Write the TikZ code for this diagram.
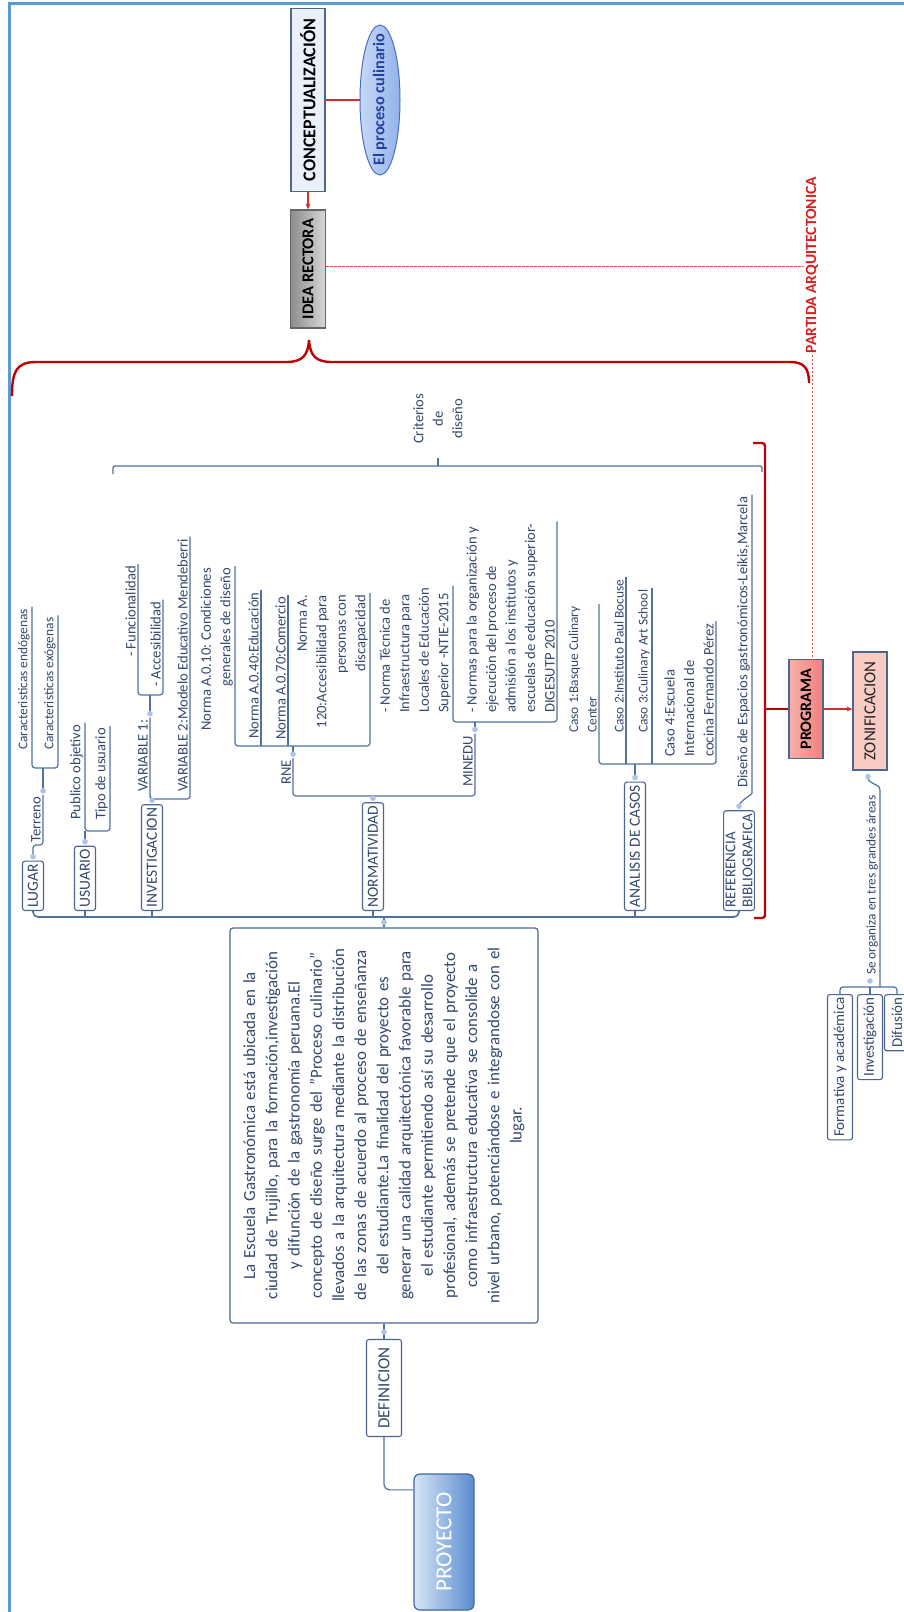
\documentclass[tikz,border=0pt]{standalone}
\usepackage{fontspec}
\setmainfont{Carlito}
\usetikzlibrary{shapes.geometric,arrows.meta,calc}
\definecolor{txt}{HTML}{34496E}
\definecolor{linec}{HTML}{50709F}
\definecolor{boxc}{HTML}{4D6690}
\definecolor{knobc}{HTML}{AFC3E6}
\definecolor{redc}{HTML}{C00000}
\definecolor{redl}{HTML}{D03030}
\definecolor{redt}{HTML}{D81E1E}
\definecolor{framec}{HTML}{5B9BD5}
\definecolor{concf}{HTML}{EAF0FA}
\definecolor{ellc}{HTML}{4A6FC0}
\definecolor{ellt}{HTML}{C7D8F6}
\definecolor{ellb}{HTML}{93B2EA}
\definecolor{elltxt}{HTML}{2441A0}
\definecolor{ideat}{HTML}{8C8C8C}
\definecolor{ideab}{HTML}{D8D8D8}
\definecolor{progt}{HTML}{F7B0A9}
\definecolor{progb}{HTML}{EF807A}
\definecolor{zonf}{HTML}{F9CBC5}
\definecolor{proyt}{HTML}{D6E5F6}
\definecolor{proyb}{HTML}{5A8CD0}
\definecolor{proyc}{HTML}{41689E}
\newcommand\fsz[2]{\fontsize{#1}{#2}\selectfont}
\tikzset{
  lbl/.style={rotate=90, font=\fsz{14.6}{19.5}, text=txt, inner sep=2pt},
  leaf/.style={lbl, align=left},
  rleaf/.style={lbl, align=right},
  small/.style={font=\fsz{13.4}{18.5}},
  topic/.style={lbl, font=\fsz{15.5}{17}, draw=boxc, fill=white, rounded corners=2.5pt,
                line width=1.1pt, inner xsep=3pt, inner ysep=2pt, minimum height=21pt},
  head/.style={rotate=90, draw=boxc, line width=1.2pt, inner sep=0pt,
               font=\bfseries\fsz{16}{18}, text=black},
  branch/.style={draw=linec, line width=1.2pt, rounded corners=3pt},
  trunk/.style={draw=linec, line width=1.6pt, rounded corners=5pt},
  redbar/.style={draw=redc, line width=2.4pt},
  redln/.style={draw=redl, line width=1.2pt},
  redarr/.style={redln, -{Stealth[length=6pt,width=5pt]}},
  dashred/.style={draw=redl!85, line width=1pt, dash pattern=on 2.5pt off 1.5pt},
  defbox/.style={rotate=90, draw=boxc, fill=white, rounded corners=3pt, line width=1.2pt,
                 minimum width=395pt, minimum height=308pt, text width=388pt,
                 align=center, font=\fsz{16.9}{22.2}, text=txt},
  proystyle/.style={rotate=90, draw=proyc, line width=1.2pt, rounded corners=6pt,
                    left color=proyt, right color=proyb, minimum width=136pt,
                    minimum height=60pt, inner sep=0pt, text=white, font=\fsz{23}{25}}
}
\begin{document}
\begin{tikzpicture}[x=1pt,y=-1pt]
\path[use as bounding box, fill=white] (0,0) rectangle (904,1612);
\draw[framec, line width=3pt] (9,1612) -- (9,3) -- (904,3);

% ---------- concept chain ----------
\node[head, fill=concf, font=\bfseries\fsz{18}{20}, minimum width=183pt, minimum height=34pt] (concept) at (308,100) {CONCEPTUALIZACIÓN};
\node[ellipse, rotate=90, draw=ellc, line width=1pt, left color=ellt, right color=ellb,
      minimum width=150pt, minimum height=40pt, inner xsep=-26pt, inner ysep=0pt,
      font=\bfseries\fsz{16.3}{18}, text=elltxt] (culin) at (380,100) {El proceso culinario};
\node[head, draw=black!60, font=\bfseries\fsz{16.5}{18}, left color=ideat, right color=ideab, minimum width=118pt, minimum height=35pt] (idea) at (308,269) {IDEA RECTORA};
\draw[redln] (concept.south) -- (culin.north);
\draw[redarr] (concept.west) -- (idea.east);

% ---------- partida arquitectonica ----------
\node[rotate=90, text=redt, font=\bfseries\fsz{15.6}{17}, inner sep=1.5pt] (partida) at (812,265) {PARTIDA ARQUITECTONICA};
\coordinate (dl) at (0,266);
\draw[dashred] (idea.south |- dl) -- (partida.north |- dl);
\node[head, draw=boxc, left color=progt, right color=progb, minimum width=99pt, minimum height=34pt] (programa) at (806,709) {PROGRAMA};
\draw[dashred] (partida.west) -- (partida.west |- programa.east);

% ---------- red braces ----------
\draw[redbar] (12,396) .. controls (12,372) and (16,362) .. (36,362) -- (286,362)
   .. controls (302,362) and (308,356) .. (309,340)
   .. controls (310,356) and (316,362) .. (332,362) -- (790,362)
   .. controls (804,362) and (809,368) .. (809,383);
\coordinate (rb) at (765,709);
\draw[redbar, rounded corners=3pt] (753,443) -- (765,443) -- (765,918) -- (754,918);
\draw[redbar] (rb) -- (programa.north);

% ---------- zonificacion ----------
\node[head, font=\fsz{16.8}{18}, text=black!85, fill=zonf, minimum width=118pt, minimum height=34pt] (zonif) at (870,711) {ZONIFICACION};
\draw[redarr] (programa.south) -- (programa.south -| zonif.north);
\coordinate (k-zon) at ($(zonif.west)+(-2,6)$);
\node[leaf, font=\fsz{13.3}{15}, anchor=south west] (seorg) at (880,977) {Se organiza en tres grandes áreas};
\coordinate (k-seorg) at (870,981);
\coordinate (b-zon) at (0,987);
\node[topic, font=\fsz{15}{16}, minimum height=25pt, anchor=east] (form) at (840,994) {Formativa y académica};
\node[topic, font=\fsz{15}{16}, minimum height=25pt, anchor=east] (inv2) at (870,994) {Investigación};
\node[topic, font=\fsz{15}{16}, minimum height=25pt, anchor=east] (difu) at (897,994) {Difusión};
\draw[branch] (k-zon) .. controls (868,786) and (880,782) .. (seorg.south east) -- (seorg.south west) -- (seorg.south west |- b-zon);
\draw[branch] (form.east) -- (form.east |- b-zon) -- (difu.east |- b-zon) -- (difu.east);
\draw[branch] (inv2.east) -- (inv2.east |- b-zon);

% ---------- criterios de diseño ----------
\node[lbl, align=center, anchor=west] (crit) at (438,446) {Criterios\\de\\diseño};
\coordinate (critl) at (438,466);
\draw[branch, rounded corners=2pt] (113,474) -- (113,466) -- (762,466) -- (762,472);
\draw[branch] (critl) -- ++(0,-8);

% ---------- definicion / proyecto ----------
\node[defbox] (deftext) at (384,1125.5) {La Escuela Gastronómica está ubicada en la\\
ciudad de Trujillo, para la formación,investigación\\
y difunción de la gastronomía peruana.El\\
concepto de diseño surge del "Proceso culinario"\\
llevados a la arquitectura mediante la distribución\\
de las zonas de acuerdo al proceso de enseñanza\\
del estudiante.La finalidad del proyecto es\\
generar una calidad arquitectónica favorable para\\
el estudiante permitiendo así su desarrollo\\
profesional, además se pretende que el proyecto\\
como infraestructura educativa se consolide a\\
nivel urbano, potenciándose e integrandose con el\\
lugar.};
\node[topic, font=\fsz{17}{19}, minimum height=35pt, minimum width=97pt] (defn) at (384,1388) {DEFINICION};
\coordinate (k-deft) at ($(deftext.east)+(0,-5)$);
\coordinate (k-defn) at ($(defn.east)+(0,-7)$);
\draw[branch] (deftext.west) -- (defn.east);
\node[proystyle] (proy) at (444,1542) {PROYECTO};
\draw[branch, rounded corners=6pt] (defn.west) |- ($(proy.north east)!0.12!(proy.north west)$);

% ---------- main trunk ----------
\coordinate (trk) at (0,917);
\node[topic, anchor=west] (lugar) at (33,911) {LUGAR};
\node[topic, anchor=west] (usuario) at (85,911) {USUARIO};
\node[topic, anchor=west] (invest) at (152,911) {INVESTIGACION};
\node[topic, anchor=west] (normat) at (373,911) {NORMATIVIDAD};
\node[topic, anchor=west] (analisis) at (635,911) {ANALISIS DE CASOS};
\node[topic, anchor=west, align=left, font=\fsz{15}{17}] (refer) at (739,911) {REFERENCIA\\BIBLIOGRAFICA};
\draw[branch] (deftext.east) -- (deftext.east |- trk);
\draw[trunk] (lugar.west) -- (lugar.west |- trk) -- (refer.west |- trk) -- (refer.west);
\foreach \n in {usuario,invest,normat,analisis}
  \draw[branch] (\n.west) -- (\n.west |- trk);
\coordinate (k-lugar) at ($(lugar.east)+(0,-4)$);
\coordinate (k-usuario) at ($(usuario.east)+(0,-4)$);
\coordinate (k-invest) at ($(invest.east)+(0,-4)$);
\coordinate (k-normat) at ($(normat.east)+(0,-4)$);
\coordinate (k-anal) at ($(analisis.east)+(0,-4)$);
\coordinate (k-refer) at ($(refer.east)+(0,-4)$);

% ---------- lugar ----------
\node[leaf, anchor=south west] (terreno) at (43,845) {Terreno};
\coordinate (k-terreno) at ($(terreno.south east)+(0,-4)$);
\node[leaf, small, anchor=south west] (endog) at (32,752) {Caracteristicas endógenas};
\node[leaf, small, anchor=south west] (exog) at (58,752) {Caracteristicas exógenas};
\coordinate (b-terreno) at (0,768);
\draw[branch] (k-lugar) -- (k-lugar |- terreno.south west) -- (terreno.south west) -- (terreno.south east);
\draw[branch] (k-terreno) -- (k-terreno |- b-terreno);
\draw[branch] (endog.south east) -- (endog.south west) -- (endog.south west |- b-terreno) -- (exog.south west |- b-terreno) -- (exog.south west) -- (exog.south east);

% ---------- usuario ----------
\node[leaf, anchor=south west] (publico) at (85,822) {Publico objetivo};
\node[leaf, anchor=south west] (tipo) at (110,822) {Tipo de usuario};
\coordinate (b-usu) at (0,831);
\draw[branch] (k-usuario) -- (k-usuario |- b-usu);
\draw[branch] (publico.south east) -- (publico.south west) -- (publico.south west |- b-usu) -- (tipo.south west |- b-usu) -- (tipo.south west) -- (tipo.south east);

% ---------- investigacion ----------
\node[leaf, anchor=south west] (var1) at (150,794) {VARIABLE 1:};
\node[leaf, anchor=south west] (var2) at (190,794) {VARIABLE 2:Modelo Educativo Mendeberri};
\coordinate (b-inv) at (0,799);
\draw[branch] (k-invest) -- (k-invest |- b-inv);
\draw[branch] (var1.south east) -- (var1.south west) -- (var1.south west |- b-inv) -- (var2.south west |- b-inv) -- (var2.south west) -- (var2.south east);
\coordinate (k-var1) at ($(var1.south east)+(0,-4)$);
\node[leaf, anchor=south west] (func) at (138,659) {- Funcionalidad};
\node[leaf, anchor=south west] (acces) at (163,689) {- Accesibilidad};
\coordinate (b-var1) at (0,695);
\draw[branch] (k-var1) -- (k-var1 |- b-var1);
\draw[branch] (func.south east) -- (func.south west) -- (func.south west |- b-var1) -- (acces.south west |- b-var1) -- (acces.south west) -- (acces.south east);

% ---------- normatividad ----------
\node[leaf, anchor=south west] (rne) at (293,787) {RNE};
\node[leaf, anchor=south west] (minedu) at (475,789) {MINEDU};
\coordinate (b-norm) at (0,796);
\draw[branch] (k-normat) -- (k-normat |- b-norm);
\draw[branch] (rne.south east) -- (rne.south west) -- (rne.south west |- b-norm) -- (minedu.south west |- b-norm) -- (minedu.south west) -- (minedu.south east);
\coordinate (k-rne) at ($(rne.south east)+(0,-4)$);
\coordinate (k-minedu) at ($(minedu.south east)+(0,-4)$);

\node[rleaf, anchor=south east] (a010) at (235,566) {Norma A.0.10: Condiciones\\generales de diseño};
\node[leaf, anchor=south west] (a040) at (261,741) {Norma A.0.40:Educación};
\node[leaf, anchor=south west] (a070) at (288,742) {Norma A.0.70:Comercio};
\node[rleaf, anchor=south east] (a120) at (370,593) {Norma A.\\120:Accesibilidad para\\personas con\\discapacidad};
\coordinate (b-rne) at (0,746);
\draw[branch] (k-rne) -- (k-rne |- b-rne);
\draw[branch] (a010.south east) -- (a010.south east |- b-rne) -- (a120.south east |- b-rne) -- (a120.south east);
\draw[branch] (a040.south east) -- (a040.south east |- b-rne);
\draw[branch] (a070.south east) -- (a070.south east |- b-rne);

\node[leaf, anchor=south west] (ntie) at (453,715) {- Norma Técnica de\\Infraestructura para\\Locales de Educación\\Superior -NTIE-2015};
\node[leaf, anchor=south west] (digesutp) at (557,715) {- Normas para la organización y\\ejecución del proceso de\\admisión a los institutos y\\escuelas de educación superior-\\DIGESUTP 2010};
\coordinate (b-min) at (0,722);
\draw[branch] (k-minedu) -- (k-minedu |- b-min);
\draw[branch] (ntie.south east) -- (ntie.south west) -- (ntie.south west |- b-min) -- (digesutp.south west |- b-min) -- (digesutp.south west) -- (digesutp.south east);

% ---------- analisis de casos ----------
\node[leaf, small, anchor=south west] (c1) at (599,735) {Caso 1:Basque Culinary\\Center};
\node[leaf, small, anchor=south west] (c2) at (626,735) {Caso 2:Instituto Paul Bocuse};
\node[leaf, small, anchor=south west] (c3) at (652,735) {Caso 3:Culinary Art School};
\node[leaf, anchor=south west] (c4) at (716,759) {Caso 4:Escuela\\Internacional de\\cocina Fernando Pérez};
\coordinate (b-anal) at (0,764);
\draw[branch] (k-anal) -- (k-anal |- b-anal);
\draw[branch] (c1.south east) -- (c1.south west) -- (c1.south west |- b-anal) -- (c4.south west |- b-anal) -- (c4.south west) -- (c4.south east);
\draw[branch] (c2.south east) -- (c2.south east |- b-anal);
\draw[branch] (c3.south east) -- (c3.south east |- b-anal);

% ---------- referencia ----------
\node[leaf, anchor=south west] (leikis) at (752,790) {Diseño de Espacios gastronómicos-Leikis,Marcela};
\draw[branch] (k-refer) .. controls ($(k-refer)+(0,-5)$) and ($(leikis.south west)+(0,5)$) .. (leikis.south west) -- (leikis.south east);

% ---------- expansion knobs ----------
\foreach \k in {k-lugar,k-usuario,k-invest,k-normat,k-anal,k-refer,k-terreno,k-var1,k-rne,k-minedu,k-deft,k-defn,k-zon,k-seorg}
  \fill[knobc] (\k) circle (2.8pt);
\end{tikzpicture}
\end{document}
